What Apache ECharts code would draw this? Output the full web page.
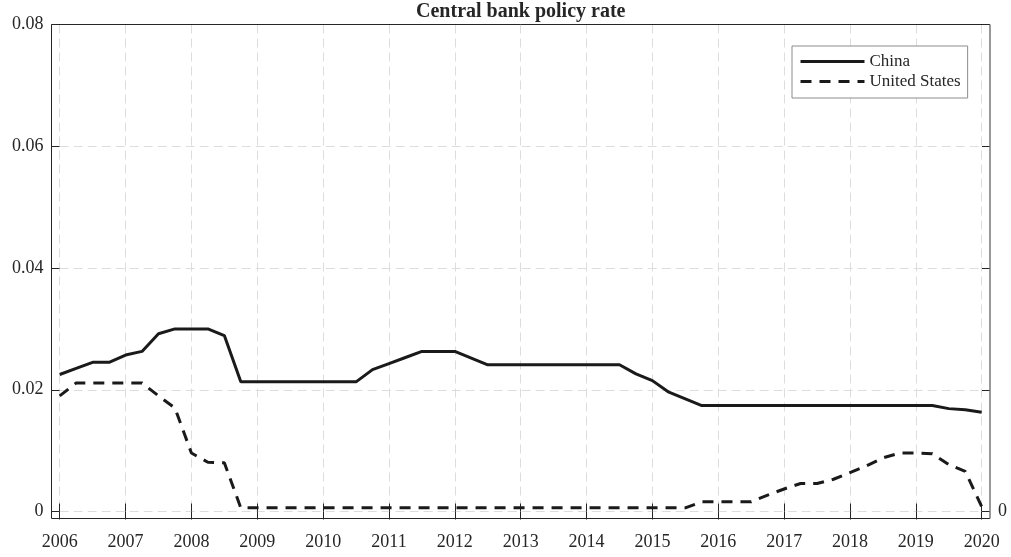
<!DOCTYPE html>
<html>
<head>
<meta charset="utf-8">
<title>Central bank policy rate</title>
<script src="https://cdn.jsdelivr.net/npm/echarts@6/dist/echarts.min.js"></script>
<style>
  html, body { margin: 0; padding: 0; background: #ffffff; }
  #chart { width: 1011px; height: 557px; }
</style>
</head>
<body>
<div id="chart"></div>
<script>
// Quarterly observation dates (decimal years)
const quarters = [
  2006, 2006.25, 2006.5, 2006.75,
  2007, 2007.25, 2007.5, 2007.75,
  2008, 2008.25, 2008.5, 2008.75,
  2009, 2009.25, 2009.5, 2009.75,
  2010, 2010.25, 2010.5, 2010.75,
  2011, 2011.25, 2011.5, 2011.75,
  2012, 2012.25, 2012.5, 2012.75,
  2013, 2013.25, 2013.5, 2013.75,
  2014, 2014.25, 2014.5, 2014.75,
  2015, 2015.25, 2015.5, 2015.75,
  2016, 2016.25, 2016.5, 2016.75,
  2017, 2017.25, 2017.5, 2017.75,
  2018, 2018.25, 2018.5, 2018.75,
  2019, 2019.25, 2019.5, 2019.75,
  2020
];

// Policy rate, China
const chinaRate = [
  0.0225, 0.0235, 0.0245, 0.0245,
  0.0257, 0.0263, 0.0292, 0.0300,
  0.0300, 0.0300, 0.0289, 0.0213,
  0.0213, 0.0213, 0.0213, 0.0213,
  0.0213, 0.0213, 0.0213, 0.0233,
  0.0243, 0.0253, 0.0263, 0.0263,
  0.0263, 0.0252, 0.0241, 0.0241,
  0.0241, 0.0241, 0.0241, 0.0241,
  0.0241, 0.0241, 0.0241, 0.0226,
  0.0215, 0.0196, 0.0185, 0.0174,
  0.0174, 0.0174, 0.0174, 0.0174,
  0.0174, 0.0174, 0.0174, 0.0174,
  0.0174, 0.0174, 0.0174, 0.0174,
  0.0174, 0.0174, 0.0169, 0.0167,
  0.0163
];

// Policy rate, United States
const usRate = [
  0.0190, 0.0211, 0.0211, 0.0211,
  0.0211, 0.0211, 0.0190, 0.0170,
  0.0096, 0.0081, 0.0080, 0.0006,
  0.0006, 0.0006, 0.0006, 0.0006,
  0.0006, 0.0006, 0.0006, 0.0006,
  0.0006, 0.0006, 0.0006, 0.0006,
  0.0006, 0.0006, 0.0006, 0.0006,
  0.0006, 0.0006, 0.0006, 0.0006,
  0.0006, 0.0006, 0.0006, 0.0006,
  0.0006, 0.0006, 0.0006, 0.0016,
  0.0016, 0.0016, 0.0016, 0.0027,
  0.0037, 0.0046, 0.0046, 0.0053,
  0.0064, 0.0075, 0.0088, 0.0096,
  0.0096, 0.0095, 0.0077, 0.0066,
  0.0008
];

const seriesNames = ['China', 'United States'];
const yTicks = [0, 0.02, 0.04, 0.06, 0.08];

const FONT = '"Liberation Serif", "Times New Roman", serif';
const INK = '#262626';
const GRIDLINE = '#dddddd';
const LINE = '#1a1a1a';

// Frame of the axes box and the inner plotting range
const box = { left: 51.5, right: 990, top: 24.5, bottom: 518.5 };
const plot = { left: 59.7, right: 981.7, top: 24.5, bottom: 511.5 };

const chart = echarts.init(document.getElementById('chart'), null, { renderer: 'canvas' });

const tickStyle = { show: true, inside: true, length: 8, lineStyle: { color: INK, width: 1 } };
const gridStyle = { show: true, lineStyle: { color: GRIDLINE, width: 1, type: [9, 5] } };

chart.setOption({
  animation: false,
  backgroundColor: '#ffffff',
  grid: {
    left: plot.left,
    right: 1011 - plot.right,
    top: plot.top,
    bottom: 557 - plot.bottom,
    containLabel: false,
    outerBoundsMode: 'none'
  },
  legend: {
    data: seriesNames,
    orient: 'vertical',
    left: 792,
    top: 46,
    padding: [7, 7, 8, 7],
    itemGap: 3,
    itemWidth: 64,
    itemHeight: 14,
    backgroundColor: '#ffffff',
    borderColor: '#8c8c8c',
    borderWidth: 1,
    borderRadius: 0,
    itemStyle: { opacity: 0, borderWidth: 0 },
    lineStyle: { width: 3, color: LINE },
    textStyle: { fontFamily: FONT, fontSize: 17, color: INK }
  },
  xAxis: [
    {
      type: 'value',
      position: 'bottom',
      min: 2006,
      max: 2020,
      interval: 1,
      offset: box.bottom - plot.bottom,
      axisLine: { show: false },
      axisTick: tickStyle,
      axisLabel: {
        show: true, margin: 15, color: INK, fontFamily: FONT, fontSize: 18,
        formatter: v => String(v)
      },
      splitLine: gridStyle
    },
    {
      type: 'value',
      position: 'top',
      min: 2006,
      max: 2020,
      interval: 1,
      axisLine: { show: false },
      axisTick: tickStyle,
      axisLabel: { show: false },
      splitLine: { show: false }
    }
  ],
  yAxis: [
    {
      type: 'value',
      position: 'left',
      min: yTicks[0],
      max: yTicks[yTicks.length - 1],
      interval: 0.02,
      offset: plot.left - box.left,
      axisLine: { show: false },
      axisTick: tickStyle,
      axisLabel: {
        show: true, margin: 8, color: INK, fontFamily: FONT, fontSize: 18,
        formatter: v => String(+v.toFixed(2))
      },
      splitLine: gridStyle
    },
    {
      type: 'value',
      position: 'right',
      min: yTicks[0],
      max: yTicks[yTicks.length - 1],
      interval: 0.02,
      offset: box.right - plot.right,
      axisLine: { show: false },
      axisTick: tickStyle,
      axisLabel: {
        show: true, margin: 8, color: INK, fontFamily: FONT, fontSize: 18,
        formatter: v => (v === 0 ? '0' : '')
      },
      splitLine: { show: false }
    }
  ],
  series: [
    {
      name: seriesNames[0],
      type: 'line',
      xAxisIndex: 0,
      yAxisIndex: 0,
      data: quarters.map((q, i) => [q, chinaRate[i]]),
      symbol: 'none',
      showSymbol: false,
      color: LINE,
      lineStyle: { color: LINE, width: 3, type: 'solid' },
      z: 5
    },
    {
      name: seriesNames[1],
      type: 'line',
      xAxisIndex: 0,
      yAxisIndex: 0,
      data: quarters.map((q, i) => [q, usRate[i]]),
      symbol: 'none',
      showSymbol: false,
      color: LINE,
      lineStyle: { color: LINE, width: 3, type: [11, 8] },
      z: 5
    }
  ],
  graphic: [
    {
      type: 'polyline',
      z: 100,
      silent: true,
      shape: { points: [[box.right, box.top], [box.left, box.top], [box.left, box.bottom], [box.right, box.bottom]] },
      style: { stroke: INK, lineWidth: 1, fill: null }
    },
    {
      type: 'line',
      z: 100,
      silent: true,
      shape: { x1: box.right, y1: box.top, x2: box.right, y2: box.bottom },
      style: { stroke: '#777777', lineWidth: 1.5 }
    },
    {
      type: 'text',
      z: 100,
      silent: true,
      x: (box.left + box.right) / 2,
      y: 2,
      style: {
        text: 'Central bank policy rate',
        fill: INK,
        font: 'bold 20px ' + FONT,
        textAlign: 'center',
        textVerticalAlign: 'top'
      }
    }
  ]
});
</script>
</body>
</html>
